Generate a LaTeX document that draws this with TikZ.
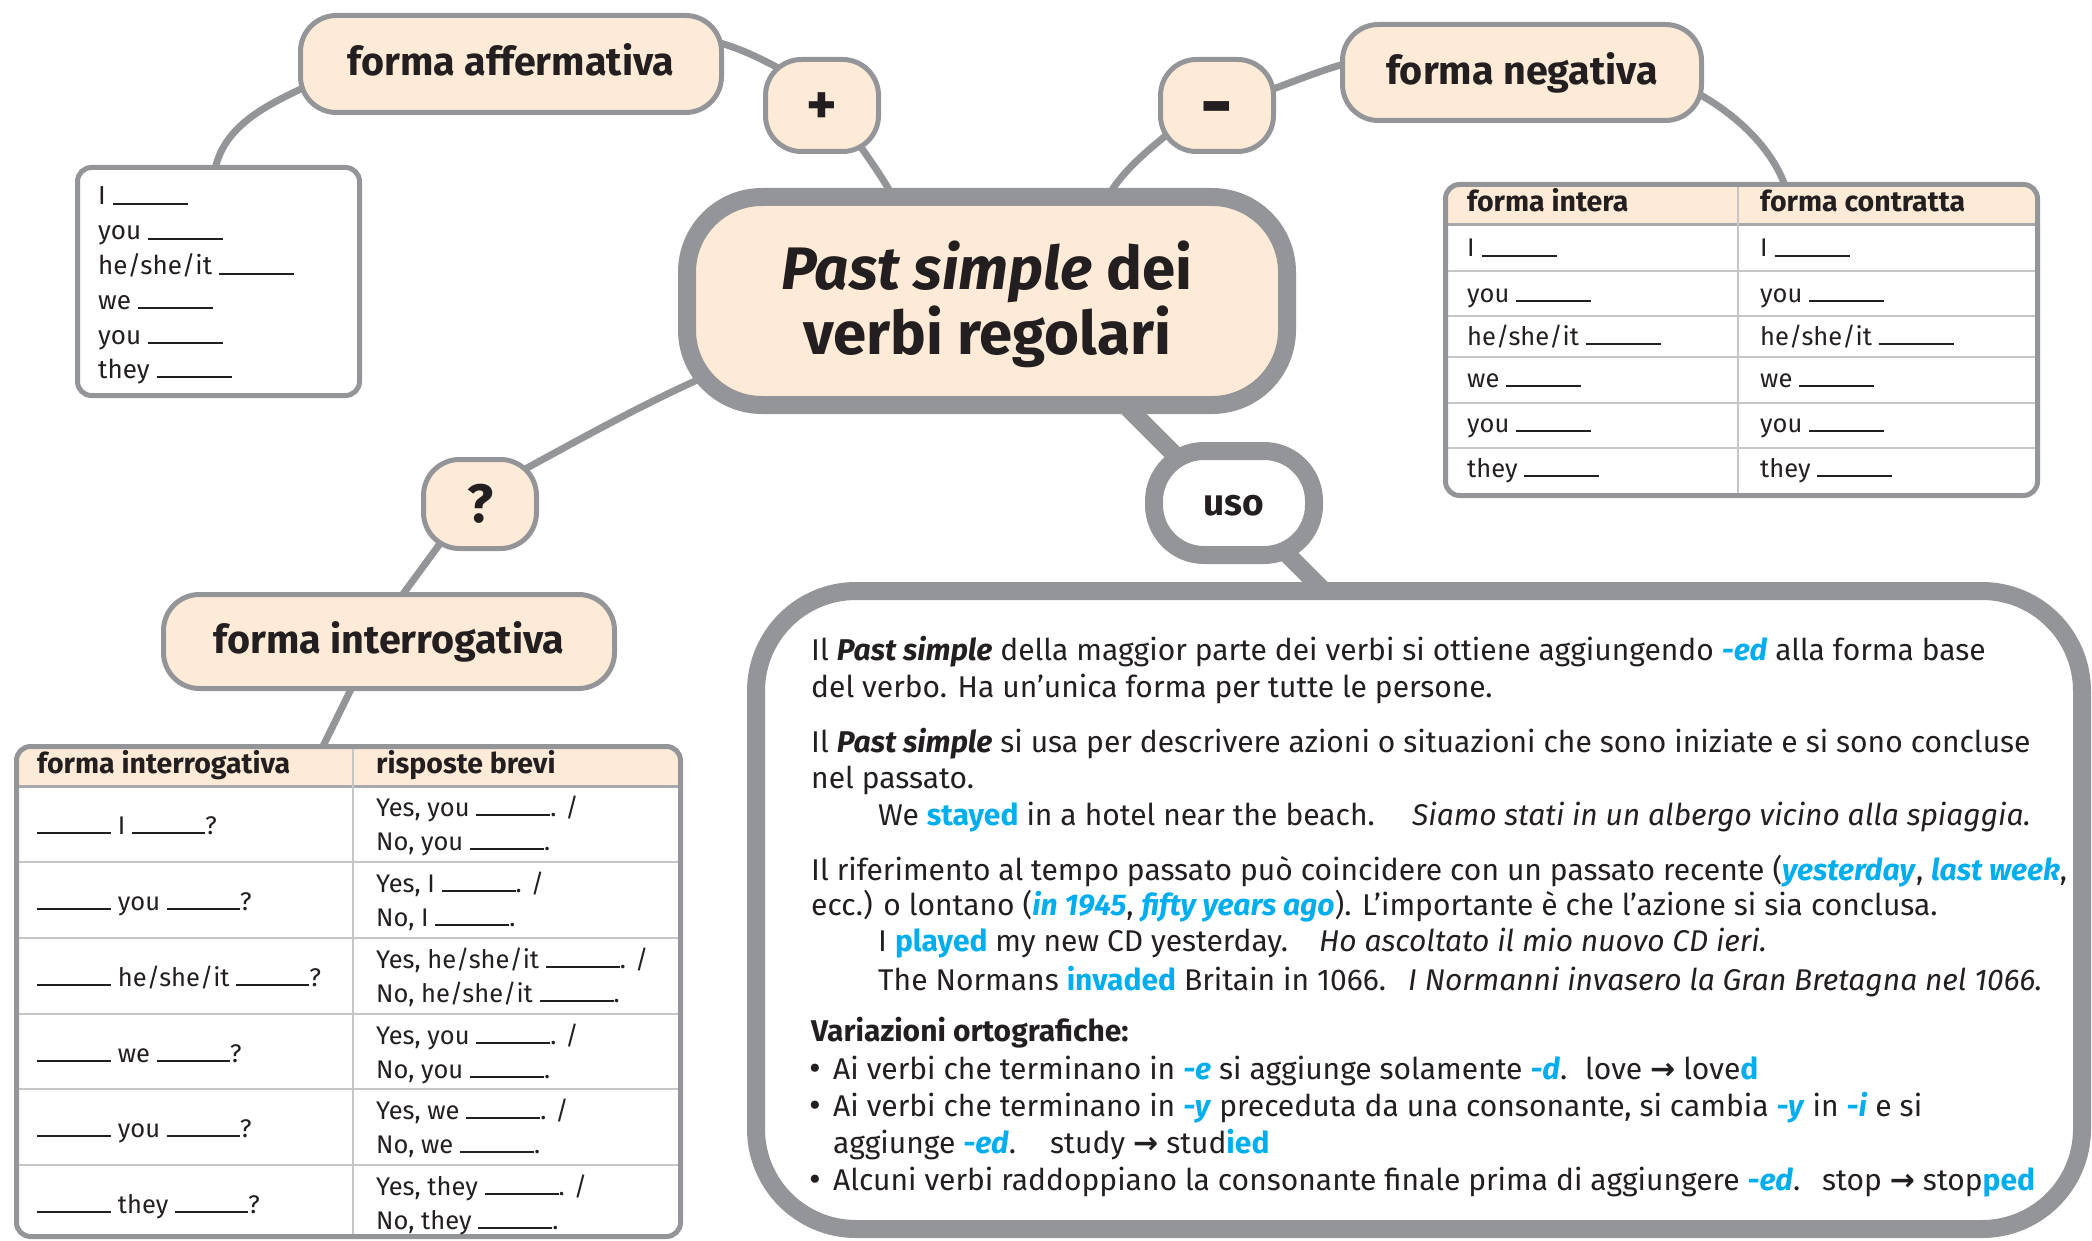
\documentclass[tikz,border=0pt]{standalone}
\usepackage{fontspec}
\setmainfont{Fira Sans}
\newfontfamily\arrowfont{DejaVu Sans}
\usetikzlibrary{backgrounds,calc}
\definecolor{peach}{HTML}{FDEBD7}
\definecolor{bgray}{HTML}{939598}
\definecolor{lgray}{HTML}{C5C6C8}
\definecolor{mgray}{HTML}{A7A9AC}
\definecolor{cyanb}{HTML}{00AEEF}
\definecolor{txt}{HTML}{231F20}
\newcommand\fs[2]{\fontsize{#1pt}{#2pt}\selectfont}
\newcommand\bb[1]{\textcolor{cyanb}{\textbf{#1}}}
\newcommand\bbi[1]{\textcolor{cyanb}{\textbf{\textit{#1}}}}
\newcommand\blnk[1][75]{\rule{#1pt}{1.6pt}}
\newcommand\arr{{\arrowfont\bfseries →}}
\newcommand\hsi{he/she/it}
\begin{document}
\begin{tikzpicture}[x=1pt,y=-1pt,
  conn/.style={draw=bgray, line width=7pt},
  tconn/.style={draw=bgray, line width=18pt},
  hbox/.style={draw=bgray, fill=peach, line width=5pt, rounded corners=36pt, inner sep=0pt, text=txt, font=\fs{39.5}{44}\bfseries, text height=24pt, text depth=0pt},
  frame/.style={fill=white, draw=none, inner sep=0pt, outer sep=0pt},
  border/.style={draw=bgray, line width=5pt, rounded corners=14pt},
  tl/.style={anchor=base west, inner sep=0pt, text=txt},
  body/.style={tl, font=\fs{30}{37}},
  bul/.style={tl, font=\fs{36}{37}},
  tab/.style={tl, font=\fs{25.5}{30}},
  tabh/.style={tl, font=\fs{28.5}{30}\bfseries},
  hline/.style={draw=mgray, line width=3pt},
  rline/.style={draw=lgray, line width=2pt}]
\useasboundingbox (0,0) rectangle (2092,1241);

% ---------- boxes ----------
\node[hbox, minimum width=421pt, minimum height=97pt] (aff) at (511,64) {forma affermativa};
\node[hbox, minimum width=113pt, minimum height=92pt, font=\fs{58}{58}\bfseries, text height=38pt] (plus) at (822,105.5) {+};
\node[hbox, minimum width=113pt, minimum height=92pt, font=\fs{80}{80}\bfseries, text height=52pt] (minus) at (1217,105.5) {-};
\node[hbox, minimum width=359pt, minimum height=96pt] (neg) at (1522,72.5) {forma negativa};
\node[hbox, minimum width=113pt, minimum height=89pt, font=\fs{54}{54}\bfseries, text height=36pt] (ques) at (480,504) {?};
\node[hbox, minimum width=451pt, minimum height=94pt] (inter) at (389,641.5) {forma interrogativa};

\node[draw=bgray, fill=peach, line width=18pt, rounded corners=75pt, minimum width=600pt, minimum height=208pt, inner sep=0pt] (central) at (987,301) {};
\node[anchor=base, inner sep=0pt, text=txt, font=\fs{60}{62}\bfseries] (t1) at (987,289) {\textit{Past simple} dei};
\node[anchor=base, inner sep=0pt, text=txt, font=\fs{60}{62}\bfseries] (t2) at (987,354) {verbi regolari};

\node[draw=bgray, fill=white, line width=18pt, rounded corners=50pt, minimum width=160pt, minimum height=104pt, inner sep=0pt, text=txt, font=\fs{37}{40}\bfseries, text height=24pt, text depth=0pt] (uso) at (1234,503) {uso};

\node[draw=bgray, fill=white, line width=18pt, rounded corners=100pt, minimum width=1326pt, minimum height=638pt, inner sep=0pt] (big) at (1419,910) {};

% ---------- left list ----------
\node[frame, minimum width=282pt, minimum height=228pt] (list) at (218.5,281.5) {};
\draw[border] (list.north west) rectangle (list.south east);
\foreach \y/\p [count=\i] in {205/I, 240/you, 275/\hsi, 309/we, 344/you, 378/they}
  \node[tl, font=\fs{26}{30}] (ll\i) at (98,\y) {\p\ \blnk};

% ---------- right table ----------
\node[frame, minimum width=592pt, minimum height=311pt] (rtab) at (1741.5,340) {};
\begin{scope}
  \clip[rounded corners=14pt] (rtab.north west) rectangle (rtab.south east);
  \fill[peach] (rtab.north west) rectangle (2037.5,225);
\end{scope}
\draw[hline] (1445.5,225) -- (2037.5,225);
\foreach \y in {271,316,357,403,448} \draw[rline] (1445.5,\y) -- (2037.5,\y);
\draw[rline] (1738,184.5) -- (1738,495.5);
\draw[border] (rtab.north west) rectangle (rtab.south east);
\node[tabh] (rh1) at (1467,212) {forma intera};
\node[tabh] (rh2) at (1760,212) {forma contratta};
\foreach \y/\p [count=\i] in {257/I, 302/you, 345/\hsi, 387/we, 432/you, 477/they}{
  \node[tab] (ri\i) at (1467,\y) {\p\ \blnk};
  \node[tab] (rc\i) at (1760,\y) {\p\ \blnk};
}

% ---------- bottom-left table ----------
\node[frame, minimum width=664pt, minimum height=490pt] (btab) at (348.5,991.5) {};
\begin{scope}
  \clip[rounded corners=14pt] (btab.north west) rectangle (btab.south east);
  \fill[peach] (btab.north west) rectangle (680.5,786);
\end{scope}
\draw[hline] (16.5,786) -- (680.5,786);
\foreach \y in {862,938,1014,1089,1165} \draw[rline] (16.5,\y) -- (680.5,\y);
\draw[rline] (353,746.5) -- (353,1236.5);
\draw[border] (btab.north west) rectangle (btab.south east);
\node[tabh] (bh1) at (37,773) {forma interrogativa};
\node[tabh] (bh2) at (376,773) {risposte brevi};
\foreach \t/\p/\q [count=\i] in {786/I/you, 862/you/I, 938/\hsi/\hsi, 1014/we/you, 1089/you/we, 1165/they/they}{
  \node[tab] (bq\i) at (37,\t+48) {\blnk[74] \p\ \blnk[73]?};
  \node[tab] (by\i) at (376,\t+30) {Yes, \q\ \blnk[74]. /};
  \node[tab] (bn\i) at (376,\t+64) {No, \q\ \blnk[74].};
}

% ---------- text of the big box ----------
\node[body] (b1) at (811,660) {Il \textbf{\textit{Past simple}} della maggior parte dei verbi si ottiene aggiungendo \bbi{-ed} alla forma base};
\node[body] (b2) at (811,697) {del verbo. Ha un’unica forma per tutte le persone.};
\node[body] (b3) at (811,752) {Il \textbf{\textit{Past simple}} si usa per descrivere azioni o situazioni che sono iniziate e si sono concluse};
\node[body] (b4) at (811,788) {nel passato.};
\node[body] (b5) at (878,825) {We \bb{stayed} in a hotel near the beach.};
\node[body] (b6) at (1412,825) {\textit{Siamo stati in un albergo vicino alla spiaggia.}};
\node[body] (b7) at (811,880) {Il riferimento al tempo passato può coincidere con un passato recente (\bbi{yesterday}, \bbi{last week},};
\node[body] (b8) at (811,915) {ecc.) o lontano (\bbi{in 1945}, \bbi{fifty years ago}). L’importante è che l’azione si sia conclusa.};
\node[body] (b9) at (878,951) {I \bb{played} my new CD yesterday.};
\node[body] (b10) at (1319,951) {\textit{Ho ascoltato il mio nuovo CD ieri.}};
\node[body] (b11) at (878,990) {The Normans \bb{invaded} Britain in 1066.};
\node[body] (b12) at (1408,990) {\textit{I Normanni invasero la Gran Bretagna nel 1066.}};
\node[body] (b13) at (811,1041) {\textbf{Variazioni ortografiche:}};
\node[bul] (b14) at (809,1080) {•};
\node[body] (b15) at (833,1079) {Ai verbi che terminano in \bbi{-e} si aggiunge solamente \bbi{-d}.};
\node[body] (b16) at (1585,1079) {love \arr\ love\bb{d}};
\node[bul] (b17) at (809,1117) {•};
\node[body] (b18) at (833,1116) {Ai verbi che terminano in \bbi{-y} preceduta da una consonante, si cambia \bbi{-y} in \bbi{-i} e si};
\node[body] (b19) at (833,1153) {aggiunge \bbi{-ed}.};
\node[body] (b20) at (1050,1153) {study \arr\ stud\bb{ied}};
\node[bul] (b21) at (809,1191) {•};
\node[body] (b22) at (833,1190) {Alcuni verbi raddoppiano la consonante finale prima di aggiungere \bbi{-ed}.};
\node[body] (b23) at (1822,1190) {stop \arr\ stop\bb{ped}};

% ---------- connectors ----------
\begin{scope}[on background layer]
  \draw[conn] ($(aff.south west)+(27,-37)$) .. controls +(-55,25) and +(5,-55) .. ($(list.north)+(-5,12)$);
  \draw[conn] ($(aff.east)+(-20,-24)$) .. controls +(30,3) and +(-25,-15) .. ($(plus.west)+(37,-25)$);
  \draw[conn] ($(plus.center)+(23,15)$) .. controls +(15,30) and +(-8,-30) .. ($(central.north)+(-87,27)$);
  \draw[conn] ($(central.north)+(113,27)$) .. controls +(12,-40) and +(-30,25) .. ($(minus.center)+(-32,14.5)$);
  \draw[conn] ($(minus.center)+(38,-10)$) .. controls +(30,-10) and +(-30,5) .. ($(neg.west)+(20,-12)$);
  \draw[conn] ($(neg.east)+(-24,12)$) .. controls +(45,20) and +(-10,-55) .. ($(rtab.north)+(48,18)$);
  \draw[conn] ($(central.south west)+(37,-42)$) .. controls +(-75,33) and +(70,-38) .. ($(ques.center)+(25,-24)$);
  \draw[conn] ($(ques.center)+(-30,26)$) -- ($(inter.north)+(6,13)$);
  \draw[conn] ($(inter.south)+(-31,-16)$) -- ($(btab.north)+(-32.5,14)$);
  \draw[tconn] ($(central.center)+(128,94)$) -- ($(uso.center)+(-39,-28)$);
  \draw[tconn] ($(uso.center)+(26,24)$) -- ($(big.north)+(-89,15)$);
\end{scope}
\end{tikzpicture}
\end{document}
